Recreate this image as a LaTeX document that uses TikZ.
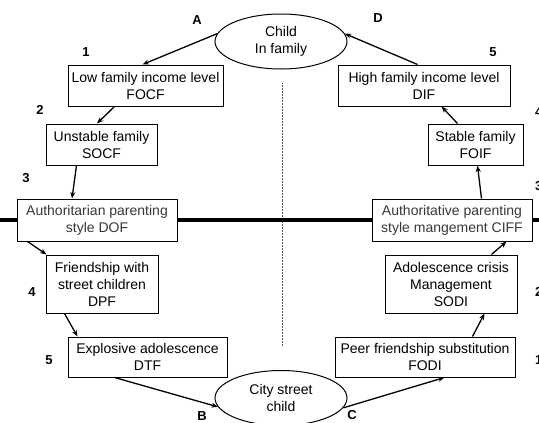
\documentclass[tikz,border=0pt]{standalone}
\usepackage{fontspec}
\setmainfont{Liberation Sans}
\usetikzlibrary{shapes.geometric,arrows.meta}
\begin{document}
\begin{tikzpicture}[x=1pt,y=-1pt]
\tikzset{
  stage/.style={draw=black, line width=1pt, fill=white, inner sep=0pt,
    align=center, font=\fontsize{14}{17}\selectfont},
  parenting/.style={stage, text=black!78},
  pole/.style={draw=black, ellipse, line width=1pt, inner sep=0pt,
    minimum width=132pt, minimum height=55pt, align=center,
    font=\fontsize{14}{17}\selectfont},
  flow/.style={line width=1.3pt, -{Stealth[length=6.5pt,width=5pt]}},
  divide/.style={line width=4pt},
  axis/.style={draw=black!65, line width=0.8pt, dash pattern=on 0.8pt off 0.7pt},
  tag/.style={font=\bfseries\fontsize{13}{13}\selectfont, inner sep=0pt},
}
\useasboundingbox (0,0) rectangle (539,423);
\clip (0,0) rectangle (539,423);

% the two poles
\node[pole] (home) at (281,41.5) {Child\\In family};
\node[pole] (street) at (281,398) {City street\\child};

% central axis
\coordinate (axtop) at (282,83);
\coordinate (axbot) at (282,347);
\draw[axis] (axtop) -- (axbot);

% path from family to street (left)
\node[stage, minimum width=155pt, minimum height=41pt] (l1) at (145.5,85.5) {Low family income level\\FOCF};
\node[stage, minimum width=111pt, minimum height=41pt] (l2) at (101.5,144.5) {Unstable family\\SOCF};
\node[parenting, minimum width=160pt, minimum height=42pt] (l3) at (97,220) {Authoritarian parenting\\style DOF};
\node[stage, minimum width=112pt, minimum height=58pt] (l4) at (102,284) {Friendship with\\street children\\DPF};
\node[stage, minimum width=159pt, minimum height=40pt] (l5) at (147.5,357) {Explosive adolescence\\DTF};

% path from street back to family (right)
\node[stage, minimum width=180pt, minimum height=40pt] (r1) at (425,357) {Peer friendship substitution\\FODI};
\node[stage, minimum width=132pt, minimum height=58pt] (r2) at (451,284) {Adolescence crisis\\Management\\SODI};
\node[parenting, minimum width=160pt, minimum height=42pt] (r3) at (452,220) {Authoritative parenting\\style mangement CIFF};
\node[stage, minimum width=95pt, minimum height=41pt] (r4) at (475.5,144.5) {Stable family\\FOIF};
\node[stage, minimum width=172pt, minimum height=41pt] (r5) at (424,85.5) {High family income level\\DIF};

% dividing bar through the parenting styles
\coordinate (barL) at (0,220);
\coordinate (barR) at (539,220);
\draw[divide] (barL) -- (l3.west);
\draw[divide] (l3.east) -- (r3.west);
\draw[divide] (r3.east) -- (barR);

% left chain
\draw[flow] (home.173) -- ([xshift=-3pt]l1.north);
\draw[flow] ([xshift=47pt]l1.south west) -- ([xshift=-4.5pt]l2.north);
\draw[flow] ([xshift=-25pt]l2.south) -- ([xshift=-25pt]l3.north);
\draw[flow] ([xshift=11pt]l3.south west) -- ([xshift=1pt]l4.north west);
\draw[flow] ([xshift=19pt]l4.south west) -- ([xshift=10pt]l5.north west);
\draw[flow] ([xshift=47pt]l5.south west) -- (street.188);

% right chain
\draw[flow] (street.351) -- ([xshift=110pt]r1.south west);
\draw[flow] ([xshift=138pt]r1.north west) -- ([xshift=100pt]r2.south west);
\draw[flow] ([xshift=107pt]r2.north west) -- ([xshift=135pt]r3.south west);
\draw[flow] ([xshift=110pt]r3.north west) -- ([xshift=50pt]r4.south west);
\draw[flow] ([xshift=30pt]r4.north west) -- ([xshift=104pt]r5.south west);
\draw[flow] ([xshift=80pt]r5.north west) -- (home.7);

% transition letters
\node[tag] (tA) at (197,20) {A};
\node[tag] (tB) at (202,416) {B};
\node[tag] (tC) at (352,415) {C};
\node[tag] (tD) at (378,18) {D};

% step numbers (the right-hand column runs past the page edge)
\node[tag] (n1) at (86,52) {1};
\node[tag] (n2) at (40,110) {2};
\node[tag] (n3) at (26,178) {3};
\node[tag] (n4) at (32,292) {4};
\node[tag] (n5) at (49,360) {5};
\node[tag] (m5) at (493,52) {5};
\node[tag, anchor=west] (m4) at (535,112) {4};
\node[tag, anchor=west] (m3) at (535,186) {3};
\node[tag, anchor=west] (m2) at (535,292) {2};
\node[tag, anchor=west] (m1) at (535,360) {1};
\end{tikzpicture}
\end{document}
